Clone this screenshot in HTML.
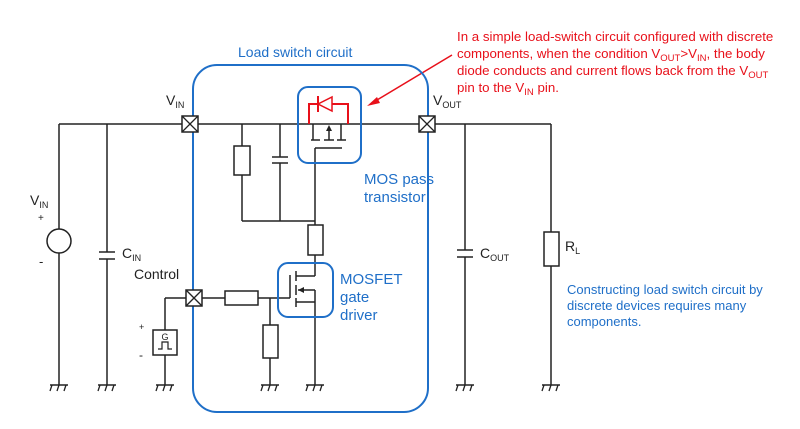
<!DOCTYPE html>
<html><head><meta charset="utf-8"><style>
body{margin:0;background:#fff;}
svg{display:block;font-family:"Liberation Sans","DejaVu Sans",sans-serif;}
</style></head><body>
<svg width="800" height="429" viewBox="0 0 800 429" xmlns="http://www.w3.org/2000/svg">
<defs>
<g id="gnd"><line x1="-9" y1="0" x2="9" y2="0" stroke="#222" stroke-width="1.5"/><line x1="-7" y1="0" x2="-9" y2="6" stroke="#222" stroke-width="1.3"/><line x1="0" y1="0" x2="-2" y2="6" stroke="#222" stroke-width="1.3"/><line x1="7" y1="0" x2="5" y2="6" stroke="#222" stroke-width="1.3"/></g>
<g id="xb"><rect x="-8" y="-8" width="16" height="16" fill="#fff" stroke="#222" stroke-width="1.5"/><line x1="-8" y1="-8" x2="8" y2="8" stroke="#222" stroke-width="1.3"/><line x1="8" y1="-8" x2="-8" y2="8" stroke="#222" stroke-width="1.3"/></g>
</defs>
<g stroke="#222" stroke-width="1.5" fill="none">
<line x1="59" y1="124" x2="551" y2="124"/>
<line x1="59" y1="124" x2="59" y2="385"/>
<line x1="107" y1="124" x2="107" y2="252"/><line x1="107" y1="259" x2="107" y2="385"/>
<line x1="99" y1="252" x2="115" y2="252"/><line x1="99" y1="259" x2="115" y2="259"/>
<circle cx="59" cy="241" r="12" fill="#fff"/>
<line x1="165" y1="298" x2="225" y2="298"/>
<line x1="165" y1="298" x2="165" y2="385"/>
<rect x="153" y="330" width="24" height="25" fill="#fff"/>
<line x1="242" y1="124" x2="242" y2="221"/>
<rect x="234" y="146" width="16" height="29" fill="#fff"/>
<line x1="280" y1="124" x2="280" y2="157"/><line x1="280" y1="163" x2="280" y2="221"/>
<line x1="272" y1="157" x2="288" y2="157"/><line x1="272" y1="163" x2="288" y2="163"/>
<line x1="242" y1="221" x2="315" y2="221"/>
<line x1="315" y1="148" x2="315" y2="276"/>
<rect x="308" y="225" width="15" height="30" fill="#fff"/>
<line x1="315" y1="148" x2="342" y2="148"/>
<line x1="313" y1="124" x2="313" y2="140"/><line x1="341" y1="124" x2="341" y2="140"/>
<line x1="311" y1="140" x2="320" y2="140"/><line x1="324" y1="140" x2="334" y2="140"/><line x1="337" y1="140" x2="346" y2="140"/>
<line x1="329" y1="140" x2="329" y2="128"/>
<line x1="225" y1="298" x2="258" y2="298"/>
<rect x="225" y="291" width="33" height="14" fill="#fff"/>
<line x1="258" y1="298" x2="290" y2="298"/>
<line x1="290" y1="298" x2="290" y2="275"/>
<line x1="270" y1="298" x2="270" y2="385"/>
<rect x="263" y="325" width="15" height="33" fill="#fff"/>
<line x1="296" y1="271" x2="296" y2="281"/><line x1="296" y1="285" x2="296" y2="295"/><line x1="296" y1="298" x2="296" y2="307"/>
<line x1="296" y1="276" x2="315" y2="276"/>
<line x1="296" y1="302" x2="315" y2="302"/>
<line x1="298" y1="290" x2="315" y2="290"/>
<line x1="315" y1="290" x2="315" y2="385"/>
<line x1="465" y1="124" x2="465" y2="250"/><line x1="465" y1="257" x2="465" y2="385"/>
<line x1="457" y1="250" x2="473" y2="250"/><line x1="457" y1="257" x2="473" y2="257"/>
<line x1="551" y1="124" x2="551" y2="385"/>
<rect x="544" y="232" width="15" height="34" fill="#fff"/>
</g>
<polygon points="329,125 326,131 332,131" fill="#222"/>
<polygon points="298,290 304,287 304,293" fill="#222"/>
<path d="M158 349 h4 v-7 h6 v7 h4" stroke="#222" stroke-width="1.2" fill="none"/>
<text x="165" y="340" font-size="9" text-anchor="middle" fill="#222">G</text>
<g stroke="#e8101a" stroke-width="2" fill="none">
<path d="M309 124 V104 H348 V124"/>
<line x1="318" y1="96" x2="318" y2="112"/>
</g>
<polygon points="318,104 332,97 332,111" fill="#fff" stroke="#e8101a" stroke-width="1.5"/>
<line x1="452" y1="55" x2="372" y2="103" stroke="#e8101a" stroke-width="1.5"/>
<polygon points="367,106 377,97 380,103" fill="#e8101a"/>
<use href="#gnd" x="59" y="385"/><use href="#gnd" x="107" y="385"/><use href="#gnd" x="165" y="385"/>
<use href="#gnd" x="270" y="385"/><use href="#gnd" x="315" y="385"/><use href="#gnd" x="465" y="385"/><use href="#gnd" x="551" y="385"/>
<rect x="193" y="65" width="235" height="347" rx="24" fill="none" stroke="#1f6fc8" stroke-width="2"/>
<rect x="298" y="87" width="63" height="76" rx="10" fill="none" stroke="#1f6fc8" stroke-width="2"/>
<rect x="278" y="263" width="55" height="54" rx="10" fill="none" stroke="#1f6fc8" stroke-width="2"/>
<use href="#xb" x="190" y="124"/><use href="#xb" x="427" y="124"/><use href="#xb" x="194" y="298"/>
<g fill="#222" font-size="14">
<text x="166" y="105">V<tspan font-size="9" dy="3">IN</tspan></text>
<text x="433" y="105">V<tspan font-size="9" dy="3">OUT</tspan></text>
<text x="30" y="205">V<tspan font-size="9" dy="3">IN</tspan></text>
<text x="122" y="258">C<tspan font-size="9" dy="3">IN</tspan></text>
<text x="134" y="279">Control</text>
<text x="480" y="258">C<tspan font-size="9" dy="3">OUT</tspan></text>
<text x="565" y="251">R<tspan font-size="9" dy="3">L</tspan></text>
<text x="38" y="221" font-size="10">+</text><text x="39" y="266" font-size="13">-</text>
<text x="139" y="330" font-size="9">+</text><text x="139" y="359" font-size="12">-</text>
</g>
<g fill="#1f6fc8">
<text x="238" y="57" font-size="14">Load switch circuit</text>
<text x="364" y="184" font-size="15">MOS pass</text>
<text x="364" y="202" font-size="15">transistor</text>
<text x="340" y="284" font-size="15">MOSFET</text>
<text x="340" y="302" font-size="15">gate</text>
<text x="340" y="320" font-size="15">driver</text>
<g font-size="13"><text x="567" y="294">Constructing load switch circuit by</text>
<text x="567" y="310">discrete devices requires many</text>
<text x="567" y="326">components.</text></g>
</g>
<g fill="#e8101a" font-size="13.3">
<text x="457" y="41">In a simple load-switch circuit configured with discrete</text>
<text x="457" y="58">components, when the condition V<tspan font-size="9.5" dy="3">OUT</tspan><tspan dy="-3">&gt;V</tspan><tspan font-size="9.5" dy="3">IN</tspan><tspan dy="-3">, the body</tspan></text>
<text x="457" y="75">diode conducts and current flows back from the V<tspan font-size="9.5" dy="3">OUT</tspan></text>
<text x="457" y="92">pin to the V<tspan font-size="9.5" dy="3">IN</tspan><tspan dy="-3"> pin.</tspan></text>
</g>
</svg>
</body></html>
